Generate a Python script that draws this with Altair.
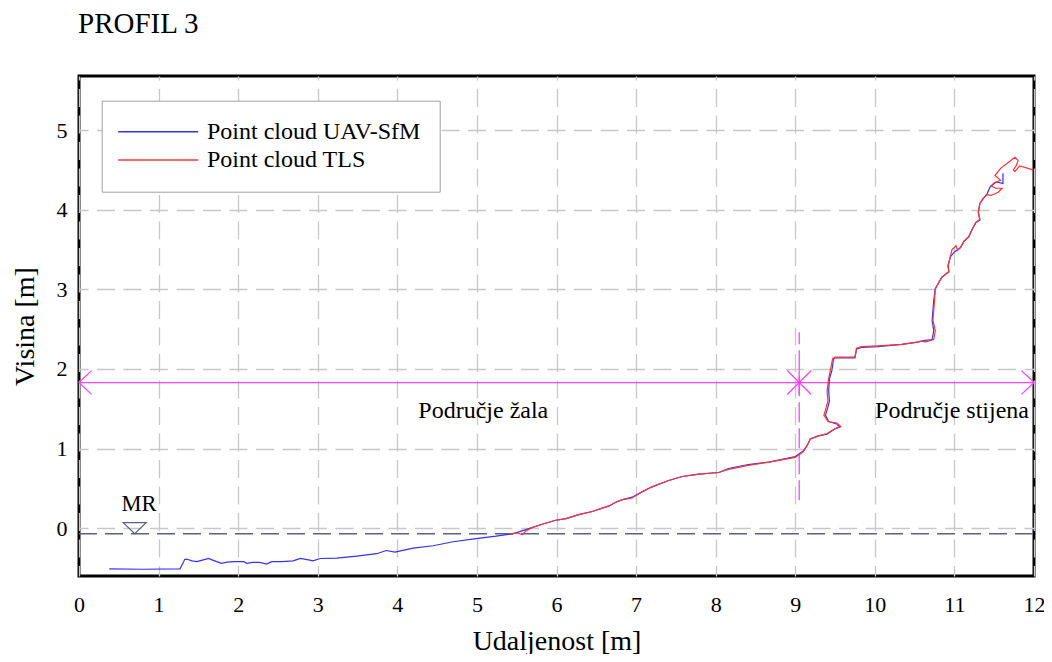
import altair as alt
import pandas as pd

FONT = "Liberation Serif"

TITLE = "PROFIL 3"
SERIES = ["Point cloud UAV-SfM", "Point cloud TLS"]
COLORS = ["#3333ff", "#ff3333"]

# profile: (distance m, height m)
UAV_POINTS = [
    (0.38, -0.51), (0.80, -0.515), (1.27, -0.51), (1.30, -0.45), (1.33, -0.39), (1.36, -0.39),
    (1.42, -0.41), (1.48, -0.42), (1.55, -0.40), (1.63, -0.38), (1.68, -0.40), (1.73, -0.42),
    (1.79, -0.44), (1.86, -0.425), (1.95, -0.42), (2.07, -0.42), (2.11, -0.44), (2.18, -0.43),
    (2.27, -0.43), (2.36, -0.45), (2.42, -0.42), (2.55, -0.42), (2.69, -0.41), (2.78, -0.38),
    (2.90, -0.40), (2.94, -0.41), (3.03, -0.38), (3.24, -0.375), (3.49, -0.35), (3.74, -0.32),
    (3.86, -0.28), (3.97, -0.30), (4.20, -0.25), (4.45, -0.22), (4.70, -0.17), (4.99, -0.13),
    (5.24, -0.10), (5.45, -0.07), (5.70, 0.01), (5.85, 0.06), (5.99, 0.10), (6.12, 0.12),
    (6.28, 0.17), (6.45, 0.21), (6.66, 0.28), (6.75, 0.33), (6.83, 0.36), (6.95, 0.39),
    (7.08, 0.46), (7.20, 0.52), (7.41, 0.60), (7.58, 0.65), (7.79, 0.68), (8.04, 0.70),
    (8.16, 0.75), (8.41, 0.80), (8.67, 0.83), (9.00, 0.90), (9.10, 0.97), (9.15, 1.04),
    (9.19, 1.12), (9.29, 1.16), (9.40, 1.18), (9.50, 1.25), (9.56, 1.27), (9.52, 1.31),
    (9.42, 1.34), (9.38, 1.42), (9.41, 1.52), (9.43, 1.60), (9.42, 1.73), (9.43, 1.88),
    (9.46, 1.98), (9.48, 2.12), (9.50, 2.14), (9.75, 2.14), (9.77, 2.25), (9.83, 2.27),
    (10.04, 2.28), (10.34, 2.31), (10.55, 2.34), (10.63, 2.36), (10.72, 2.37), (10.74, 2.48),
    (10.72, 2.61), (10.74, 2.86), (10.76, 3.01), (10.84, 3.15), (10.90, 3.20), (10.93, 3.22),
    (10.92, 3.30), (10.95, 3.41), (11.00, 3.47), (11.07, 3.52), (11.12, 3.60), (11.18, 3.66),
    (11.22, 3.75), (11.27, 3.84), (11.32, 3.87), (11.30, 3.97), (11.32, 4.08), (11.36, 4.14),
    (11.41, 4.20), (11.45, 4.29), (11.53, 4.35), (11.61, 4.33), (11.61, 4.46),
]

TLS_POINTS = [
    (5.40, -0.07), (5.50, -0.06), (5.57, -0.08), (5.62, -0.03), (5.70, 0.01), (5.85, 0.06),
    (5.99, 0.10), (6.12, 0.12), (6.28, 0.17), (6.45, 0.21), (6.66, 0.28), (6.75, 0.33),
    (6.83, 0.36), (6.95, 0.38), (7.08, 0.46), (7.20, 0.52), (7.41, 0.60), (7.58, 0.65),
    (7.79, 0.68), (8.04, 0.70), (8.16, 0.74), (8.41, 0.79), (8.67, 0.83), (9.00, 0.89),
    (9.10, 0.96), (9.15, 1.04), (9.19, 1.12), (9.29, 1.16), (9.40, 1.19), (9.50, 1.25),
    (9.57, 1.28), (9.52, 1.32), (9.41, 1.34), (9.36, 1.42), (9.39, 1.52), (9.41, 1.60),
    (9.40, 1.73), (9.42, 1.88), (9.44, 1.98), (9.47, 2.13), (9.50, 2.15), (9.75, 2.15),
    (9.77, 2.26), (9.83, 2.28), (10.04, 2.29), (10.34, 2.31), (10.50, 2.33), (10.58, 2.35),
    (10.64, 2.34), (10.74, 2.37), (10.76, 2.48), (10.73, 2.61), (10.75, 2.86), (10.76, 3.01),
    (10.84, 3.15), (10.90, 3.20), (10.93, 3.22), (10.92, 3.30), (10.95, 3.42), (10.97, 3.50),
    (11.02, 3.55), (11.04, 3.49), (11.08, 3.53), (11.12, 3.61), (11.18, 3.66), (11.22, 3.75),
    (11.27, 3.84), (11.32, 3.88), (11.30, 3.97), (11.32, 4.08), (11.36, 4.14), (11.41, 4.19),
    (11.46, 4.18), (11.55, 4.22), (11.60, 4.27), (11.52, 4.27), (11.46, 4.30), (11.50, 4.34),
    (11.58, 4.37), (11.51, 4.43), (11.58, 4.52), (11.66, 4.58), (11.76, 4.66), (11.80, 4.62),
    (11.78, 4.56), (11.74, 4.50), (11.76, 4.48), (11.82, 4.55), (11.99, 4.50),
]

X_TICKS = list(range(0, 13))
Y_TICKS = [0, 1, 2, 3, 4, 5]
X_DOMAIN = [0, 12]
Y_DOMAIN = [-0.6, 5.68]

MR_LEVEL = -0.07
MR_SYMBOL = [0.70, 0.0]
MR_TEXT = [0.755, 0.22]

ZONE_LEVEL = 1.83
ZONE_SPLIT = 9.05
ZONE_SPLIT_RANGE = [0.35, 2.46]
ZONE_NAMES = ["Područje žala", "Područje stijena"]
ZONE_NAME_X = [5.08, 10.97]
ZONE_NAME_Y = 1.38

MAGENTA = "#ff44ff"
MR_COLOR = "#5e5e8c"


def profile_frame(points, name):
    return pd.DataFrame({
        "x": [p[0] for p in points],
        "y": [p[1] for p in points],
        "series": name,
        "i": list(range(len(points))),
    })


uav_df = profile_frame(UAV_POINTS, SERIES[0])
tls_df = profile_frame(TLS_POINTS, SERIES[1])

x_scale = alt.Scale(domain=X_DOMAIN, nice=False, zero=False)
y_scale = alt.Scale(domain=Y_DOMAIN, nice=False, zero=False)
x_axis = alt.Axis(
    values=X_TICKS, title="Udaljenost [m]", format="d", labelFlush=False,
    titleY=73, titleBaseline="alphabetic",
)
y_axis = alt.Axis(values=Y_TICKS, title="Visina [m]", format="d", labelFlush=False)


def X(field="x"):
    return alt.X(f"{field}:Q", scale=x_scale, axis=x_axis)


def Y(field="y"):
    return alt.Y(f"{field}:Q", scale=y_scale, axis=y_axis)


color = alt.Color(
    "series:N",
    scale=alt.Scale(domain=SERIES, range=COLORS),
    legend=alt.Legend(
        orient="none", legendX=22.7, legendY=24.7, title=None,
        symbolType="M-5,0L5,0", symbolSize=256, symbolStrokeWidth=1.5,
        symbolOffset=25.5, labelOffset=36.8, labelLimit=400,
        labelFont=FONT, labelFontSize=24, labelColor="black",
        padding=19, rowPadding=4.3,
        fillColor="white", strokeColor="#a0a0a0",
    ),
)

# chart heading, placed above the plot frame
title_text = alt.Chart(pd.DataFrame({"t": [TITLE]})).mark_text(
    font=FONT, fontSize=29, color="black", baseline="alphabetic", align="left"
).encode(x=alt.value(-1), y=alt.value(-43), text="t:N")

# MR (mean sea level) line, symbol and label
mr_line = alt.Chart(pd.DataFrame({"x": [X_DOMAIN[0]], "x2": [X_DOMAIN[1]], "y": [MR_LEVEL]})).mark_rule(
    color=MR_COLOR, strokeWidth=1.5, strokeDash=[18, 8]
).encode(x=X(), x2="x2:Q", y=Y())

mr_symbol = alt.Chart(pd.DataFrame({"x": [MR_SYMBOL[0]], "y": [MR_SYMBOL[1]]})).mark_point(
    shape="M-1,-0.48L1,-0.48L0,0.48Z", size=529, filled=False, color=MR_COLOR, strokeWidth=1.2, opacity=1
).encode(x=X(), y=Y())

mr_text = alt.Chart(pd.DataFrame({"x": [MR_TEXT[0]], "y": [MR_TEXT[1]], "t": ["MR"]})).mark_text(
    font=FONT, fontSize=22.5, color="black", baseline="alphabetic", align="center"
).encode(x=X(), y=Y(), text="t:N")

# zone annotation
zone_line = alt.Chart(pd.DataFrame({"x": [X_DOMAIN[0]], "x2": [X_DOMAIN[1]], "y": [ZONE_LEVEL]})).mark_rule(
    color=MAGENTA, strokeWidth=1.3
).encode(x=X(), x2="x2:Q", y=Y())

zone_split = alt.Chart(pd.DataFrame({"x": [ZONE_SPLIT], "y": [ZONE_SPLIT_RANGE[0]], "y2": [ZONE_SPLIT_RANGE[1]]})).mark_rule(
    color=MAGENTA, strokeWidth=1.3, strokeDash=[20, 6]
).encode(x=X(), y=Y(), y2="y2:Q")

arrow_left = alt.Chart(pd.DataFrame({"x": [X_DOMAIN[0]], "y": [ZONE_LEVEL]})).mark_point(
    shape="M1,-0.95L0,0L1,0.95", size=625, filled=False, color=MAGENTA, strokeWidth=1.3, opacity=1
).encode(x=X(), y=Y())

arrow_right = alt.Chart(pd.DataFrame({"x": [X_DOMAIN[1]], "y": [ZONE_LEVEL]})).mark_point(
    shape="M-1,-0.95L0,0L-1,0.95", size=625, filled=False, color=MAGENTA, strokeWidth=1.3, opacity=1
).encode(x=X(), y=Y())

zone_star = alt.Chart(pd.DataFrame({"x": [ZONE_SPLIT], "y": [ZONE_LEVEL]})).mark_point(
    shape="M-1,-1L1,1M-1,1L1,-1M0,-1L0,1", size=576, filled=False, color=MAGENTA, strokeWidth=1.3, opacity=1
).encode(x=X(), y=Y())

zone_text = alt.Chart(pd.DataFrame({"x": ZONE_NAME_X, "y": [ZONE_NAME_Y] * 2, "t": ZONE_NAMES})).mark_text(
    font=FONT, fontSize=24, color="black", baseline="alphabetic", align="center"
).encode(x=X(), y=Y(), text="t:N")

# profiles
uav_line = alt.Chart(uav_df).mark_line(strokeWidth=1.2).encode(
    x=X(), y=Y(), order="i:Q", color=color
)
tls_line = alt.Chart(tls_df).mark_line(strokeWidth=1.2).encode(
    x=X(), y=Y(), order="i:Q", color=color
)

chart = alt.layer(
    mr_line, zone_line, zone_split, arrow_left, arrow_right, zone_star,
    mr_symbol, mr_text, zone_text, uav_line, tls_line, title_text,
).properties(
    width=955,
    height=500,
    autosize=alt.AutoSizeParams(type="none"),
    padding={"left": 71, "top": 68, "right": 10, "bottom": 78},
).configure_view(
    stroke="black", strokeWidth=3
).configure_axis(
    grid=True, gridColor="#c8c8c8", gridWidth=1.3, gridDash=[18, 8.5],
    domain=False, ticks=False,
    labelFont=FONT, labelFontSize=22, labelColor="black",
    titleFont=FONT, titleFontSize=28, titleFontWeight="normal", titleColor="black",
).configure_axisX(
    labelPadding=18, gridDashOffset=14
).configure_axisY(
    labelPadding=12, gridDashOffset=9, titlePadding=17
)

chart.save("out.html", embed_options={"renderer": "svg", "actions": False})
